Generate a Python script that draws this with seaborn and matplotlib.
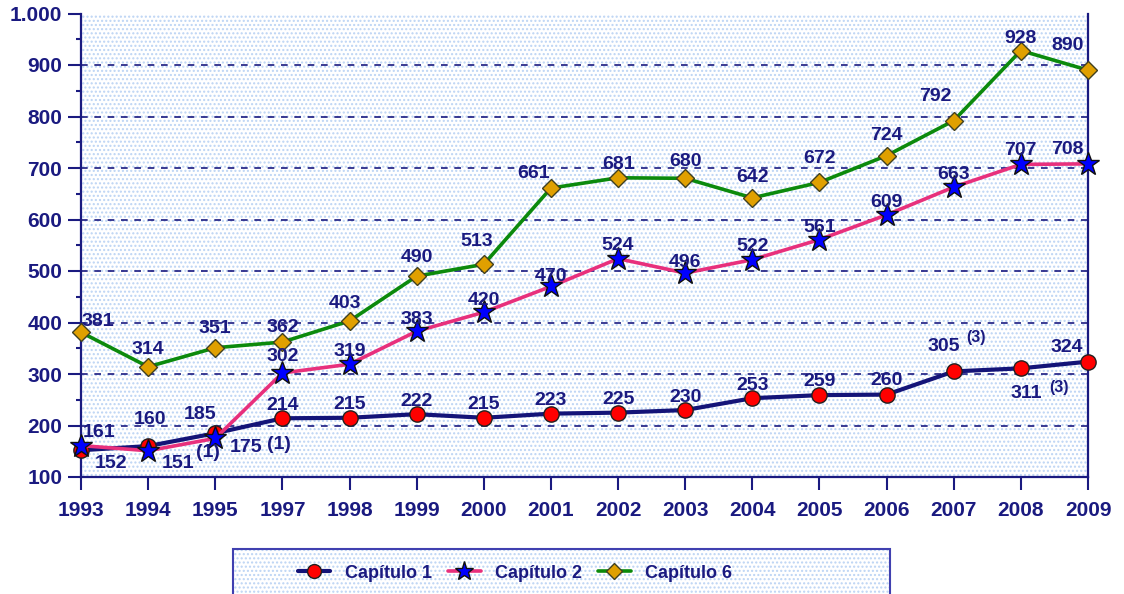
import numpy as np
import pandas as pd
import seaborn as sns
import matplotlib
matplotlib.use("Agg")
import matplotlib.pyplot as plt
from matplotlib.patches import Rectangle
from matplotlib.lines import Line2D
from matplotlib.ticker import FuncFormatter, MultipleLocator

# ---------------- data ----------------
years = ["1993", "1994", "1995", "1997", "1998", "1999", "2000", "2001",
         "2002", "2003", "2004", "2005", "2006", "2007", "2008", "2009"]
cap1 = [152, 160, 185, 214, 215, 222, 215, 223, 225, 230, 253, 259, 260, 305, 311, 324]
cap2 = [161, 151, 175, 302, 319, 383, 420, 470, 524, 496, 522, 561, 609, 663, 707, 708]
cap6 = [381, 314, 351, 362, 403, 490, 513, 661, 681, 680, 642, 672, 724, 792, 928, 890]
series_names = ["Capítulo 1", "Capítulo 2", "Capítulo 6"]
y_ticks = [100, 200, 300, 400, 500, 600, 700, 800, 900, 1000]
# footnote marks: (series index, point index, text)
notes = [(1, 1, "(1)"), (1, 2, "(1)"), (0, 13, "(3)"), (0, 14, "(3)")]

# ---------------- label offsets (pixels, style only) ----------------
off1 = [(30, -13), (2, 27), (-15, 19), (0, 13), (0, 13), (0, 13), (0, 13), (0, 13),
        (0, 13), (0, 13), (0, 13), (0, 14), (0, 14), (-10, 25), (5, -25), (-21, 14)]
off2 = [(18, 13), (30, -13), (31, -9), (0, 16), (0, 13), (0, 12), (0, 12), (0, 10),
        (0, 13), (0, 11), (0, 13), (0, 12), (0, 12), (0, 13), (0, 14), (-21, 14)]
off6 = [(17, 11), (0, 17), (0, 19), (0, 15), (-5, 17), (0, 19), (-7, 23), (-17, 15),
        (0, 13), (0, 17), (0, 20), (0, 24), (0, 20), (-18, 24), (0, 12), (-20, 25)]
note_off = [(60, -2), (64, -6), (22, 34), (38, -19)]
note_size = [14, 14, 11.5, 11.5]

NAVY = "#1a1a80"
LINE1 = "#141478"
PINK = "#e8307c"
GREEN = "#0c8a0c"
GOLD = "#e0a000"
DOTS = "#bcd4f4"

sns.set_theme(style="white")
plt.rcParams["font.family"] = ["Liberation Sans", "DejaVu Sans"]

fig = plt.figure(figsize=(11.24, 5.94), dpi=100)
ax = fig.add_axes([81 / 1124, 1 - 477 / 594, (1088 - 81) / 1124, (477 - 13.5) / 594])
ax.set_facecolor("white")
ax.add_patch(Rectangle((0, 0), 1, 1, transform=ax.transAxes, facecolor="white",
                       hatch="....", edgecolor=DOTS, lw=0, zorder=0))

pos = np.arange(len(years))
df = pd.DataFrame({"pos": pos, "c1": cap1, "c2": cap2, "c6": cap6})

styles = [
    dict(col="c1", color=LINE1, lw=3.0, marker="o", ms=11, mfc="#ff0000", mec="#202020", lms=10),
    dict(col="c2", color=PINK, lw=2.6, marker="*", ms=17, mfc="#0000ff", mec="#101010", lms=14),
    dict(col="c6", color=GREEN, lw=2.6, marker="D", ms=9.5, mfc=GOLD, mec="#404020", lms=8.5),
]
for i, st in enumerate(styles):
    sns.lineplot(data=df, x="pos", y=st["col"], ax=ax, color=st["color"], lw=st["lw"],
                 marker=st["marker"], markersize=st["ms"], markerfacecolor=st["mfc"],
                 markeredgecolor=st["mec"], markeredgewidth=1.0, zorder=3 + i,
                 clip_on=False)

# data labels
all_vals = [cap1, cap2, cap6]
all_offs = [off1, off2, off6]
for vals, offs in zip(all_vals, all_offs):
    for x, v, (dx, dy) in zip(pos, vals, offs):
        ax.annotate(str(v), (x, v), xytext=(dx, dy), textcoords="offset pixels",
                    ha="center", va="center", fontsize=14, fontweight="bold",
                    color=NAVY, zorder=10)
for (si, pi, txt), (dx, dy), fs in zip(notes, note_off, note_size):
    v = all_vals[si][pi]
    ax.annotate(txt, (pos[pi], v), xytext=(dx, dy), textcoords="offset pixels",
                ha="center", va="center", fontsize=fs, fontweight="bold",
                color=NAVY, zorder=10)

# axes
ax.set_xlim(pos[0], pos[-1])
ax.set_ylim(y_ticks[0], y_ticks[-1])
ax.set_xticks(pos)
ax.set_xticklabels(years)
ax.set_yticks(y_ticks)
ax.yaxis.set_minor_locator(MultipleLocator(50))
ax.yaxis.set_major_formatter(FuncFormatter(lambda v, p: f"{v:,.0f}".replace(",", ".")))
ax.set_xlabel("")
ax.set_ylabel("")

ax.grid(axis="y", color=NAVY, lw=1.2, linestyle=(0, (4, 4)))
ax.grid(axis="x", visible=False)
gl = ax.get_ygridlines()
gl[0].set_visible(False)
gl[-1].set_visible(False)

for s in ["left", "bottom", "right"]:
    ax.spines[s].set_visible(True)
    ax.spines[s].set_color(NAVY)
    ax.spines[s].set_linewidth(1.6)
ax.spines["top"].set_visible(False)

ax.tick_params(axis="both", which="major", direction="out", length=9.5, width=1.5,
               color=NAVY, labelcolor=NAVY, labelsize=15)
ax.tick_params(axis="x", pad=8, bottom=True)
ax.tick_params(axis="y", left=True, pad=4)
ax.tick_params(axis="y", which="minor", direction="out", length=3.5, width=1.5,
               color=NAVY, left=True)
for lbl in ax.get_xticklabels() + ax.get_yticklabels():
    lbl.set_fontweight("bold")

# legend box
fig.patches.append(Rectangle((233 / 1124, -0.02), (890 - 233) / 1124, (594 - 549) / 594 + 0.02,
                             transform=fig.transFigure, facecolor="white", hatch="....",
                             edgecolor=DOTS, lw=0, zorder=0))
fig.patches.append(Rectangle((233 / 1124, -0.02), (890 - 233) / 1124, (594 - 549) / 594 + 0.02,
                             transform=fig.transFigure, facecolor="none",
                             edgecolor="#4040b0", lw=1.5, zorder=1))
handles = [Line2D([], [], color=st["color"], lw=st["lw"], marker=st["marker"],
                  markersize=st["lms"], markerfacecolor=st["mfc"], markeredgecolor=st["mec"])
           for st in styles]
leg = fig.legend(handles, series_names, loc="center", bbox_to_anchor=(515 / 1124, 1 - 573 / 594),
                 ncol=3, frameon=False, handlelength=1.8, handletextpad=0.8,
                 columnspacing=0.9, prop={"size": 13, "weight": "bold"})
for t in leg.get_texts():
    t.set_color(NAVY)

fig.savefig("out.png", dpi=100)
